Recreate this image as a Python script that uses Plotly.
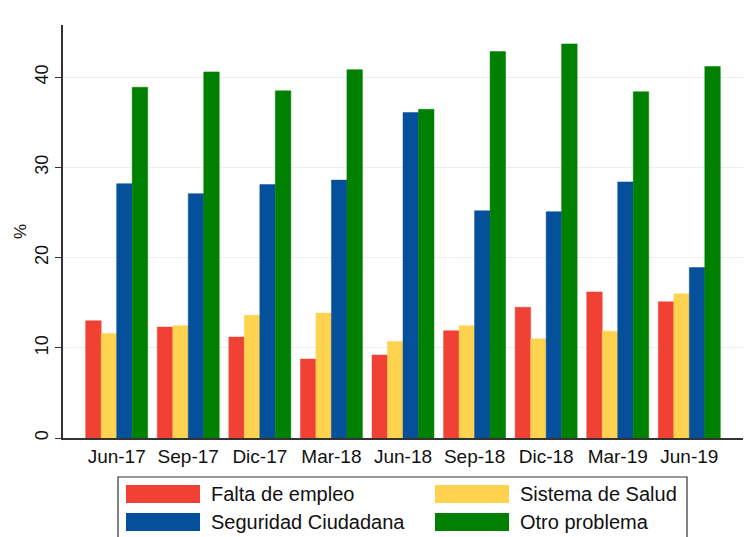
import plotly.graph_objects as go

# Data (% of respondents)
periods = ['Jun-17', 'Sep-17', 'Dic-17', 'Mar-18', 'Jun-18',
           'Sep-18', 'Dic-18', 'Mar-19', 'Jun-19']
falta_empleo = [13.0, 12.3, 11.2, 8.75, 9.2, 11.9, 14.5, 16.2, 15.1]
sistema_salud = [11.6, 12.45, 13.6, 13.85, 10.7, 12.45, 11.0, 11.85, 16.0]
seguridad = [28.2, 27.1, 28.1, 28.6, 36.1, 25.2, 25.1, 28.4, 18.9]
otro_problema = [38.9, 40.6, 38.5, 40.85, 36.45, 42.85, 43.7, 38.4, 41.2]

series_names = ['Falta de empleo', 'Sistema de Salud',
                'Seguridad Ciudadana', 'Otro problema']
series_values = [falta_empleo, sistema_salud, seguridad, otro_problema]
series_colors = ['#F04134', '#FFD250', '#05509B', '#008000']

W, H = 749, 537
L, R, T, B = 63, 6, 25, 99
PW, PH = W - L - R, H - T - B


def px_x(p):
    return (p - L) / PW


def px_y(p):
    return (H - B - p) / PH


fig = go.Figure()
for name, vals, col in zip(series_names, series_values, series_colors):
    fig.add_trace(go.Bar(
        x=list(range(len(periods))), y=vals, name=name,
        marker=dict(color=col, line=dict(color=col, width=0.5)),
        showlegend=False
    ))

# Manual legend box (large swatches like the original)
shapes = [dict(type='rect', xref='paper', yref='paper',
               x0=px_x(118), x1=px_x(687), y0=px_y(477), y1=px_y(540),
               line=dict(color='#333333', width=1.2), fillcolor='white')]
annotations = []
legend_pos = [(126, 494), (435, 494), (126, 522), (435, 522)]
for i, (lx, ly) in enumerate(legend_pos):
    shapes.append(dict(type='rect', xref='paper', yref='paper',
                       x0=px_x(lx), x1=px_x(lx + 74),
                       y0=px_y(ly + 9), y1=px_y(ly - 9),
                       line=dict(width=0), fillcolor=series_colors[i]))
    annotations.append(dict(text=series_names[i], xref='paper', yref='paper',
                            x=px_x(lx + 83), y=px_y(ly), xanchor='left',
                            yanchor='middle', showarrow=False,
                            font=dict(size=20, color='#111111')))

annotations.append(dict(text='%', xref='paper', yref='paper',
                        x=px_x(20), y=px_y(232), textangle=-90,
                        showarrow=False, xanchor='center', yanchor='middle',
                        font=dict(size=17, color='#111111')))

fig.update_layout(
    width=W, height=H,
    margin=dict(l=L, r=R, t=T, b=B),
    plot_bgcolor='white', paper_bgcolor='white',
    font=dict(family='Liberation Sans, Arial', color='#111111'),
    barmode='group', bargap=0.134, bargroupgap=0,
    shapes=shapes, annotations=annotations,
    xaxis=dict(
        tickmode='array', tickvals=list(range(len(periods))), ticktext=periods,
        range=[-0.75, len(periods) - 0.25], showgrid=False,
        showline=True, linecolor='#333333', linewidth=1.5,
        ticks='', tickfont=dict(size=19), zeroline=False
    ),
    yaxis=dict(
        range=[0, 45.8], tickvals=[0, 10, 20, 30, 40],
        showgrid=True, gridcolor='#E6F0F0', gridwidth=1,
        showline=True, linecolor='#333333', linewidth=1.5,
        ticks='outside', ticklen=6, tickcolor='#333333',
        tickangle=-90, tickfont=dict(size=18), zeroline=False
    ),
)

# remove the default page margin so the figure sits at the window corner
fig.write_html("out.html", config={'displayModeBar': False},
               post_script="document.body.style.margin='0';")
